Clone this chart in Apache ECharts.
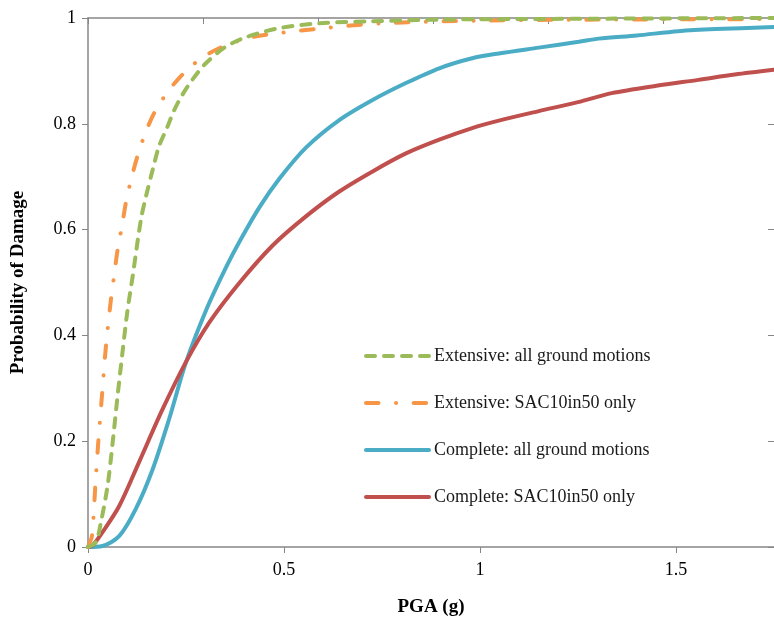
<!DOCTYPE html>
<html>
<head>
<meta charset="utf-8">
<script src="https://cdn.jsdelivr.net/npm/echarts@6/dist/echarts.min.js"></script>
<style>
  html, body { margin: 0; padding: 0; background: #fff; }
  #chart { width: 774px; height: 622px; }
</style>
</head>
<body>
<div id="chart"></div>
<script>
// PGA (g) values and damage probabilities
const extAllX = [0, 0.02, 0.033, 0.05, 0.063, 0.0755, 0.088, 0.1, 0.114, 0.135, 0.148, 0.165, 0.181, 0.203, 0.22, 0.241, 0.266, 0.3, 0.35, 0.404, 0.489, 0.59, 0.725, 0.9, 1.1, 1.4, 1.75];
const extAllY = [0, 0.009, 0.047, 0.116, 0.198, 0.286, 0.368, 0.443, 0.512, 0.619, 0.663, 0.713, 0.757, 0.795, 0.826, 0.855, 0.883, 0.914, 0.945, 0.964, 0.981, 0.99, 0.994, 0.997, 0.998, 0.999, 1.0];

const extSacX = [0, 0.002, 0.0102, 0.0187, 0.0262, 0.0356, 0.0458, 0.0585, 0.067, 0.0755, 0.0865, 0.0967, 0.111, 0.126, 0.148, 0.173, 0.209, 0.249, 0.295, 0.354, 0.42, 0.471, 0.59, 0.75, 1.0, 1.3, 1.75];
const extSacY = [0, 0.003, 0.021, 0.116, 0.198, 0.286, 0.38, 0.468, 0.515, 0.562, 0.606, 0.651, 0.698, 0.738, 0.786, 0.826, 0.866, 0.899, 0.927, 0.949, 0.964, 0.97, 0.98, 0.99, 0.995, 0.997, 0.998];

const compAllX = [0, 0.037, 0.08, 0.122, 0.165, 0.207, 0.249, 0.302, 0.353, 0.387, 0.438, 0.489, 0.556, 0.641, 0.726, 0.811, 0.896, 0.98, 1.048, 1.15, 1.252, 1.303, 1.4, 1.506, 1.6, 1.75];
const compAllY = [0, 0.002, 0.021, 0.072, 0.147, 0.242, 0.347, 0.449, 0.53, 0.578, 0.643, 0.697, 0.755, 0.807, 0.845, 0.877, 0.905, 0.924, 0.933, 0.944, 0.955, 0.961, 0.967, 0.975, 0.979, 0.983];

const compSacX = [0, 0.012, 0.037, 0.08, 0.13, 0.19, 0.25, 0.31, 0.387, 0.471, 0.556, 0.641, 0.726, 0.811, 0.896, 0.98, 1.048, 1.15, 1.25, 1.336, 1.45, 1.557, 1.65, 1.75];
const compSacY = [0, 0.003, 0.028, 0.078, 0.16, 0.26, 0.35, 0.425, 0.5, 0.57, 0.625, 0.672, 0.71, 0.744, 0.77, 0.792, 0.806, 0.824, 0.841, 0.858, 0.872, 0.883, 0.893, 0.902];

const seriesNames = [
  'Extensive: all ground motions',
  'Extensive: SAC10in50 only',
  'Complete: all ground motions',
  'Complete: SAC10in50 only'
];

const pairs = (xs, ys) => xs.map((x, i) => [x, ys[i]]);

const serif = 'Liberation Serif';
const axisGray = '#868686';

const chart = echarts.init(document.getElementById('chart'));

function lineSeries(name, xs, ys, color, type, z) {
  return {
    name: name,
    type: 'line',
    data: pairs(xs, ys),
    smooth: 0.3,
    showSymbol: false,
    symbol: 'none',
    z: z,
    itemStyle: { color: color },
    lineStyle: { color: color, width: 4, type: type, cap: 'round' }
  };
}

const option = {
  animation: false,
  grid: { left: 88, right: 0, top: 18, bottom: 74 },
  legend: {
    orient: 'vertical',
    left: 359,
    top: 342,
    itemWidth: 63,
    itemHeight: 20,
    itemGap: 29,
    data: seriesNames,
    itemStyle: { opacity: 0 },
    lineStyle: { width: 4 },
    textStyle: { fontFamily: serif, fontSize: 18, color: '#1a1a1a' }
  },
  xAxis: [
    {
      type: 'value',
      min: 0,
      max: 1.75,
      interval: 0.5,
      name: 'PGA (g)',
      nameLocation: 'middle',
      nameGap: 51,
      nameTextStyle: { fontFamily: serif, fontSize: 19, fontWeight: 'bold', color: '#000' },
      axisLine: { lineStyle: { color: axisGray, width: 1.5 } },
      axisTick: { inside: false, length: 6, lineStyle: { color: axisGray } },
      axisLabel: { fontFamily: serif, fontSize: 18, color: '#000', margin: 14, showMaxLabel: false },
      splitLine: { show: false }
    },
    {
      // unlabelled secondary axis along the top edge
      type: 'value',
      position: 'top',
      min: 0,
      max: 5.965,
      interval: 1,
      axisLine: { show: true, onZero: false, lineStyle: { color: axisGray, width: 1.5 } },
      axisTick: { inside: true, length: 6, lineStyle: { color: axisGray } },
      axisLabel: { show: false },
      splitLine: { show: false }
    }
  ],
  yAxis: [
    {
      type: 'value',
      min: 0,
      max: 1,
      interval: 0.2,
      name: 'Probability of Damage',
      nameLocation: 'middle',
      nameGap: 60,
      nameTextStyle: { fontFamily: serif, fontSize: 19, fontWeight: 'bold', color: '#000' },
      axisLine: { show: true, lineStyle: { color: axisGray, width: 1.5 } },
      axisTick: { show: true, inside: false, length: 6, lineStyle: { color: axisGray } },
      axisLabel: { fontFamily: serif, fontSize: 18, color: '#000', margin: 12 },
      splitLine: { show: false }
    },
    {
      type: 'value',
      position: 'right',
      min: 0,
      max: 1,
      interval: 0.2,
      axisLine: { show: false, onZero: false },
      axisTick: { show: true, inside: true, length: 6, lineStyle: { color: axisGray } },
      axisLabel: { show: false },
      splitLine: { show: false }
    }
  ],
  series: [
    lineSeries(seriesNames[0], extAllX, extAllY, '#9BBB59', [9, 9], 4),
    lineSeries(seriesNames[1], extSacX, extSacY, '#F79646', [12.5, 17.5, 0.1, 17.5], 3),
    lineSeries(seriesNames[2], compAllX, compAllY, '#4BACC6', 'solid', 2),
    lineSeries(seriesNames[3], compSacX, compSacY, '#C0504D', 'solid', 2)
  ]
};

chart.setOption(option);
</script>
</body>
</html>
